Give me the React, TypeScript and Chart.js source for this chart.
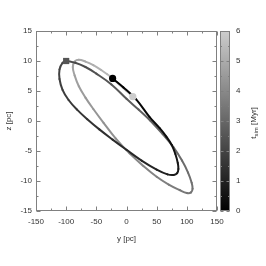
import React, { useEffect, useRef } from 'react';
import { Chart, registerables } from 'chart.js';

Chart.register(...registerables);

// trajectory (y [pc], z [pc], t_sim [Myr]), in time order
const trajY = [
  -23, -5, 16, 38, 55, 66, 75, 81, 85, 86, 84, 78, 68, 50, 25, 0, -23, -45, -65, -82, -96, -106, -111, -111, -106, -100,
  -85, -68, -50, -25, 0, 20, 40, 60, 78, 92, 102, 108, 109.5, 107, 100, 88,
  70, 50, 28, 5, -18, -38, -55, -68, -79, -86, -89, -86, -79,
  -68, -55, -42, -32, -23, -10, 0, 10.5,
];
const trajZ = [
  7.1, 5.6, 3.6, 0.7, -1.2, -2.6, -4.0, -5.5, -7.0, -8.0, -8.7, -9.0, -8.9, -8.1, -6.6, -4.8, -3.1, -1.4, 0.3, 1.9, 3.5, 5.2, 7.0, 8.6, 9.7, 10.0,
  9.7, 9.0, 7.9, 6.1, 3.7, 1.9, 0.0, -2.2, -4.4, -6.6, -8.6, -10.3, -11.3, -11.9, -12.0, -11.5,
  -10.6, -9.3, -7.5, -5.4, -2.9, -0.3, 2.0, 3.9, 5.8, 7.6, 9.0, 9.9, 10.2,
  9.9, 9.3, 8.5, 7.8, 7.1, 5.9, 5.0, 4.05,
];
const trajT = [
  0, 0.08, 0.16, 0.24, 0.32, 0.4, 0.48, 0.56, 0.64, 0.7, 0.76, 0.82, 0.9, 1.0, 1.1, 1.2, 1.3, 1.4, 1.5, 1.6, 1.7, 1.8, 1.9, 1.98, 2.05, 2.1,
  2.2, 2.3, 2.4, 2.52, 2.64, 2.74, 2.84, 2.94, 3.04, 3.13, 3.22, 3.3, 3.36, 3.42, 3.48, 3.56,
  3.67, 3.79, 3.92, 4.05, 4.18, 4.3, 4.41, 4.51, 4.61, 4.7, 4.78, 4.85, 4.92,
  5.02, 5.14, 5.27, 5.38, 5.5, 5.66, 5.8, 6.0,
];

// markers
const squareY = [-100];
const squareZ = [10];
const blackDotY = [-23];
const blackDotZ = [7.1];
const lightDotY = [10.5];
const lightDotZ = [4.05];

// axes
const xMin = -150, xMax = 150, xMajor = 50, xMinor = 25;
const zMin = -15, zMax = 15, zMajor = 5, zMinor = 2.5;
const tMin = 0, tMax = 6, tMajor = 1;

const FONT = "'Liberation Sans', Arial, sans-serif";
const FRAME = '#808080';
const TEXT = '#333333';

function grayFor(t: number): string {
  const g = Math.round(Math.max(0, Math.min(1, t / tMax)) * 205);
  return `rgb(${g},${g},${g})`;
}

const framePlugin = {
  id: 'gnuframe',
  afterDraw(chart: any) {
    const { ctx, chartArea: a, scales } = chart;
    const xs = scales.x, ys = scales.y, cb = scales.cb;
    ctx.save();
    ctx.strokeStyle = FRAME;
    ctx.lineWidth = 1;
    const line = (x1: number, y1: number, x2: number, y2: number) => {
      ctx.beginPath(); ctx.moveTo(x1, y1); ctx.lineTo(x2, y2); ctx.stroke();
    };
    const L = Math.round(a.left) + 0.5, R = Math.round(a.right) - 0.5;
    const T = Math.round(a.top) + 0.5, B = Math.round(a.bottom) - 0.5;
    ctx.strokeRect(L, T, R - L, B - T);
    xs.ticks.forEach((tk: any, i: number) => {
      const px = Math.round(xs.getPixelForTick(i)) + 0.5;
      const len = Math.abs(tk.value % xMajor) < 1e-6 ? 4 : 2;
      line(px, B, px, B - len);
      line(px, T, px, T + len);
    });
    ys.ticks.forEach((tk: any, i: number) => {
      const py = Math.round(ys.getPixelForTick(i)) + 0.5;
      const len = Math.abs(tk.value % zMajor) < 1e-6 ? 4 : 2;
      line(L, py, L + len, py);
      line(R, py, R - len, py);
    });
    // colour box
    const bx = Math.round(a.right) + 3, bw = 10;
    const top = Math.round(cb.top), bot = Math.round(cb.bottom);
    const grad = ctx.createLinearGradient(0, bot, 0, top);
    for (let k = 0; k <= 12; k++) grad.addColorStop(k / 12, grayFor(tMin + (tMax - tMin) * k / 12));
    ctx.fillStyle = grad;
    ctx.fillRect(bx, top, bw, bot - top);
    ctx.strokeRect(bx + 0.5, top + 0.5, bw - 1, bot - top - 1);
    cb.ticks.forEach((tk: any, i: number) => {
      const py = Math.round(cb.getPixelForTick(i)) + 0.5;
      const len = Math.abs(tk.value % tMajor) < 1e-6 ? 3 : 1.5;
      line(bx + 0.5, py, bx + 0.5 + len, py);
      line(bx + bw - 0.5, py, bx + bw - 0.5 - len, py);
    });
    // colour box title: t_sim [Myr]
    ctx.fillStyle = TEXT;
    const cx = 254, cy = (top + bot) / 2 + 2;
    ctx.translate(cx, cy);
    ctx.rotate(-Math.PI / 2);
    ctx.textBaseline = 'middle';
    ctx.textAlign = 'left';
    const big = `8px ${FONT}`, small = `6px ${FONT}`;
    ctx.font = big; const w1 = ctx.measureText('t').width;
    ctx.font = small; const w2 = ctx.measureText('sim').width;
    ctx.font = big; const w3 = ctx.measureText(' [Myr]').width;
    let x0 = -(w1 + w2 + w3) / 2;
    ctx.font = big; ctx.fillText('t', x0, 0); x0 += w1;
    ctx.font = small; ctx.fillText('sim', x0, 2); x0 += w2;
    ctx.font = big; ctx.fillText(' [Myr]', x0, 0);
    ctx.restore();
  },
};

export default function App() {
  const ref = useRef<HTMLCanvasElement | null>(null);
  useEffect(() => {
    if (!ref.current) return;
    const n = trajY.length;
    const pts: { x: number; y: number; t: number }[] = [];
    for (let i = n - 1; i >= 0; i--) pts.push({ x: trajY[i], y: trajZ[i], t: trajT[i] });
    const tickFont = { family: FONT, size: 8 };
    const chart = new Chart(ref.current, {
      type: 'scatter',
      data: {
        datasets: [
          {
            data: lightDotY.map((v, i) => ({ x: v, y: lightDotZ[i] })),
            pointStyle: 'circle', pointRadius: 3.6, backgroundColor: '#cccccc', borderColor: '#cccccc', borderWidth: 0,
          },
          {
            data: blackDotY.map((v, i) => ({ x: v, y: blackDotZ[i] })),
            pointStyle: 'circle', pointRadius: 3.6, backgroundColor: '#000000', borderColor: '#000000', borderWidth: 0,
          },
          {
            data: squareY.map((v, i) => ({ x: v, y: squareZ[i] })),
            pointStyle: 'rect', pointRadius: 4.4, backgroundColor: '#555555', borderColor: '#555555', borderWidth: 0,
          },
          {
            data: pts,
            showLine: true,
            pointRadius: 0,
            borderWidth: 2,
            borderCapStyle: 'round',
            borderJoinStyle: 'round',
            tension: 0.4,
            borderColor: '#000',
            segment: {
              borderColor: (c: any) => grayFor((pts[c.p0DataIndex].t + pts[c.p1DataIndex].t) / 2),
            },
          } as any,
        ],
      },
      options: {
        responsive: false,
        animation: false,
        devicePixelRatio: 1,
        layout: { padding: { top: 31, left: 0, right: 0, bottom: 0 } },
        plugins: { legend: { display: false }, tooltip: { enabled: false } },
        scales: {
          x: {
            type: 'linear', position: 'bottom', min: xMin, max: xMax,
            grid: { display: false, drawTicks: false },
            border: { display: false },
            ticks: {
              stepSize: xMinor, autoSkip: false, maxRotation: 0, padding: 6, color: TEXT, font: tickFont,
              callback: (v: any) => (Math.abs(Number(v) % xMajor) < 1e-6 ? String(v) : ''),
            },
            title: { display: true, text: 'y [pc]', color: TEXT, font: tickFont, padding: { top: 0, bottom: 22 } },
            afterFit: (s: any) => { s.height = 55; },
          },
          y: {
            type: 'linear', position: 'left', min: zMin, max: zMax,
            grid: { display: false, drawTicks: false },
            border: { display: false },
            ticks: {
              stepSize: zMinor, autoSkip: false, padding: 4, color: TEXT, font: tickFont,
              callback: (v: any) => (Math.abs(Number(v) % zMajor) < 1e-6 ? String(v) : ''),
            },
            title: { display: true, text: 'z [pc]', color: TEXT, font: tickFont, padding: { top: 4, bottom: 0 } },
            afterFit: (s: any) => { s.width = 36; },
          },
          cb: {
            type: 'linear', position: 'right', min: tMin, max: tMax,
            grid: { display: false, drawTicks: false },
            border: { display: false },
            ticks: {
              stepSize: tMajor / 2, autoSkip: false, padding: 19, color: TEXT, font: tickFont,
              callback: (v: any) => (Math.abs(Number(v) % tMajor) < 1e-6 ? String(v) : ''),
            },
            afterFit: (s: any) => { s.width = 49; },
          },
        },
      } as any,
      plugins: [framePlugin],
    });
    return () => chart.destroy();
  }, []);
  return (
    <div style={{ position: 'fixed', left: 0, top: 0, width: 266, height: 266, background: '#fff' }}>
      <canvas ref={ref} width={266} height={266} style={{ display: 'block', width: 266, height: 266 }} />
    </div>
  );
}
